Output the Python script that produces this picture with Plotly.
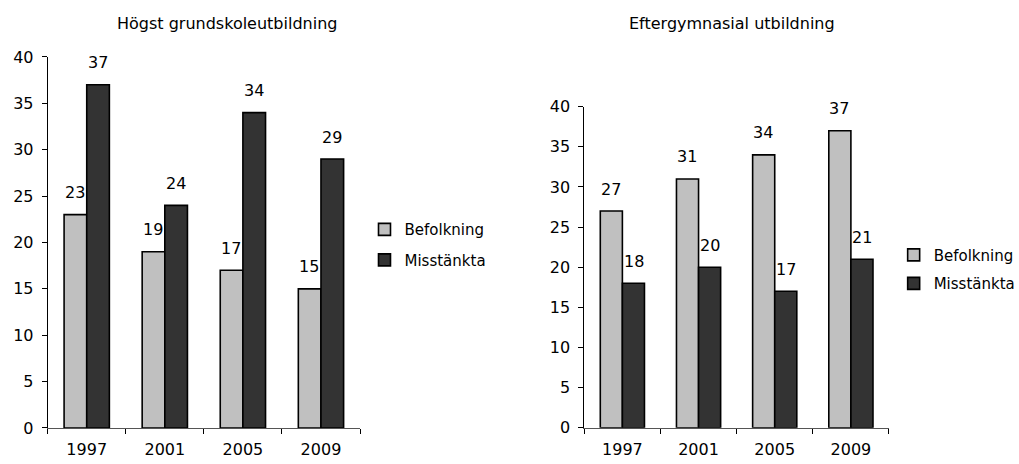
import plotly.graph_objects as go

YEARS = ['1997', '2001', '2005', '2009']

# Högst grundskoleutbildning (procent)
grund_befolkning = [23, 19, 17, 15]
grund_misstankta = [37, 24, 34, 29]

# Eftergymnasial utbildning (procent)
efter_befolkning = [27, 31, 34, 37]
efter_misstankta = [18, 20, 17, 21]

LIGHT = '#c0c0c0'
DARK = '#333333'
FONT = 'DejaVu Sans'

fig = go.Figure()


def add_pair(befolkning, misstankta, xaxis, yaxis, legend):
    for name, vals, color in [('Befolkning', befolkning, LIGHT),
                              ('Misstänkta', misstankta, DARK)]:
        fig.add_trace(go.Bar(
            x=YEARS, y=vals, name=name,
            marker={"color": color, "line": {"color": 'black', "width": 1.6}},
            xaxis=xaxis, yaxis=yaxis, legend=legend, legendgroup=name + legend,
        ))
    # value labels, a bit above each bar like the original
    # (category axes take the category index for annotations)
    for vals, shift in [(befolkning, -11.5), (misstankta, 11.5)]:
        for i, v in enumerate(vals):
            fig.add_annotation(
                x=i, y=v, xref=xaxis, yref=yaxis, text=str(v),
                showarrow=False, xshift=shift, yshift=22,
                xanchor='center', yanchor='middle',
                font={"size": 16, "color": 'black', "family": FONT},
            )


add_pair(grund_befolkning, grund_misstankta, 'x', 'y', 'legend')
add_pair(efter_befolkning, efter_misstankta, 'x2', 'y2', 'legend2')

axis_common = {
    "showline": True, "linecolor": 'black', "linewidth": 1,
    "ticks": 'outside', "ticklen": 5, "tickcolor": 'black',
    "showgrid": False, "zeroline": False, "automargin": False,
    "tickfont": {"size": 16, "family": FONT, "color": 'black'},
}
xaxis_common = {**axis_common, "type": 'category', "tickson": 'boundaries',
                "linecolor": '#555555', "ticklabelstandoff": 7, "tickangle": 0}

fig.update_layout(
    width=1019, height=464,
    margin={"l": 0, "r": 0, "t": 0, "b": 0, "autoexpand": False},
    paper_bgcolor='white', plot_bgcolor='white',
    bargap=0.42, bargroupgap=0,
    barmode='group',
    font={"family": FONT, "size": 16, "color": 'black'},
    xaxis={**xaxis_common, "domain": [0.0468, 0.3533], "anchor": 'y'},
    yaxis={**axis_common, "domain": [0.0776, 0.8772], "anchor": 'x',
           "range": [0, 40], "dtick": 5, "ticklabelstandoff": 5},
    xaxis2={**xaxis_common, "domain": [0.5734, 0.8724], "anchor": 'y2'},
    yaxis2={**axis_common, "domain": [0.0782, 0.7700], "anchor": 'x2',
            "range": [0, 40], "dtick": 5, "ticklabelstandoff": 5},
    legend={"x": 0.3577, "y": 0.4728, "xanchor": 'left', "yanchor": 'middle',
            "traceorder": 'grouped', "tracegroupgap": 8,
            "font": {"size": 15, "family": FONT}, "bgcolor": 'rgba(0,0,0,0)'},
    legend2={"x": 0.877, "y": 0.42, "xanchor": 'left', "yanchor": 'middle',
             "traceorder": 'grouped', "tracegroupgap": 6,
             "font": {"size": 15, "family": FONT}, "bgcolor": 'rgba(0,0,0,0)'},
)

fig.add_annotation(x=0.2228, y=0.9504, xref='paper', yref='paper',
                   xanchor='center', yanchor='middle',
                   text='Högst grundskoleutbildning', showarrow=False,
                   font={"size": 16, "family": FONT, "color": 'black'})
fig.add_annotation(x=0.7183, y=0.9504, xref='paper', yref='paper',
                   xanchor='center', yanchor='middle',
                   text='Eftergymnasial utbildning', showarrow=False,
                   font={"size": 16, "family": FONT, "color": 'black'})

# drop the default page margin so the figure fills the window
fig.write_html("out.html", config={"displayModeBar": False},
               post_script="document.body.style.margin='0';")
